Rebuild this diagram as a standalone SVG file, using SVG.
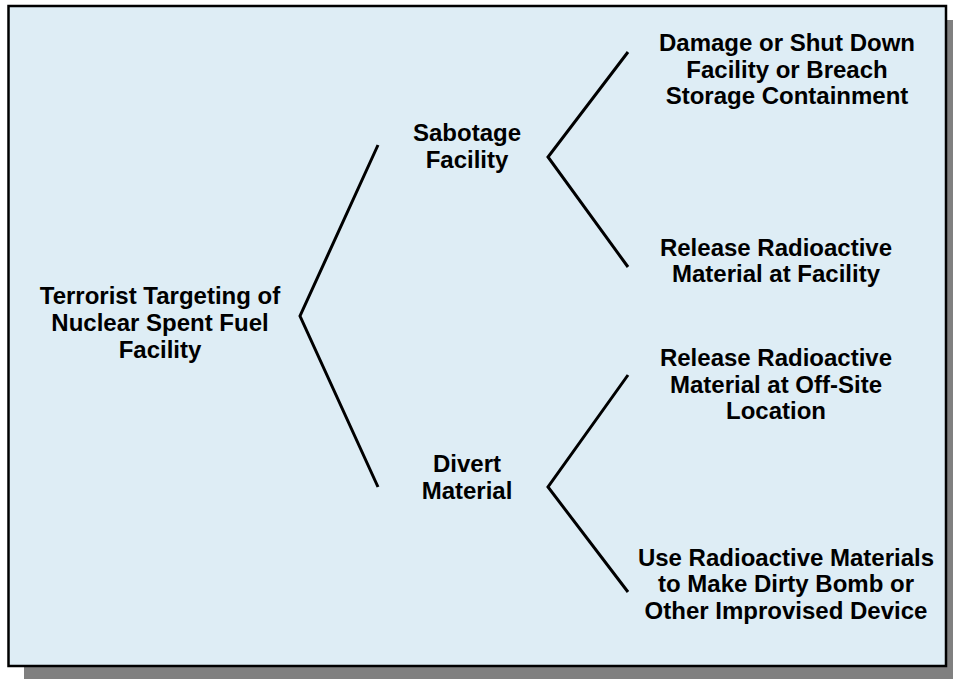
<svg xmlns="http://www.w3.org/2000/svg" width="953" height="679" viewBox="0 0 953 679">
<defs>
<style>
.t{font-family:"Liberation Sans",Arial,sans-serif;font-weight:bold;font-size:24px;fill:#000;text-anchor:middle}
.c{fill:none;stroke:#000;stroke-width:3;stroke-linejoin:miter}
</style>
</defs>
<rect x="0" y="0" width="953" height="679" fill="#ffffff"/>
<rect x="24" y="20" width="935" height="665" fill="#808080"/>
<rect x="8.5" y="6" width="937.5" height="660" fill="#deedf5" stroke="#000" stroke-width="2.5"/>
<g id="connectors">
<polyline class="c" points="378,145 300,316 378,487"/>
<polyline class="c" points="628,52 548,157 628,267"/>
<polyline class="c" points="628,375 548,487 628,592"/>
</g>
<g id="root">
<text class="t" x="160" y="304">Terrorist Targeting of</text>
<text class="t" x="160" y="331">Nuclear Spent Fuel</text>
<text class="t" x="160" y="358">Facility</text>
</g>
<g id="sabotage">
<text class="t" x="467" y="141">Sabotage</text>
<text class="t" x="467" y="168">Facility</text>
</g>
<g id="divert">
<text class="t" x="467" y="472">Divert</text>
<text class="t" x="467" y="499">Material</text>
</g>
<g id="damage">
<text class="t" x="787" y="51">Damage or Shut Down</text>
<text class="t" x="787" y="78">Facility or Breach</text>
<text class="t" x="787" y="104">Storage Containment</text>
</g>
<g id="release-facility">
<text class="t" x="776" y="256">Release Radioactive</text>
<text class="t" x="776" y="282">Material at Facility</text>
</g>
<g id="release-offsite">
<text class="t" x="776" y="366">Release Radioactive</text>
<text class="t" x="776" y="393">Material at Off-Site</text>
<text class="t" x="776" y="419">Location</text>
</g>
<g id="dirty-bomb">
<text class="t" x="786" y="566">Use Radioactive Materials</text>
<text class="t" x="786" y="592">to Make Dirty Bomb or</text>
<text class="t" x="786" y="619">Other Improvised Device</text>
</g>
</svg>
